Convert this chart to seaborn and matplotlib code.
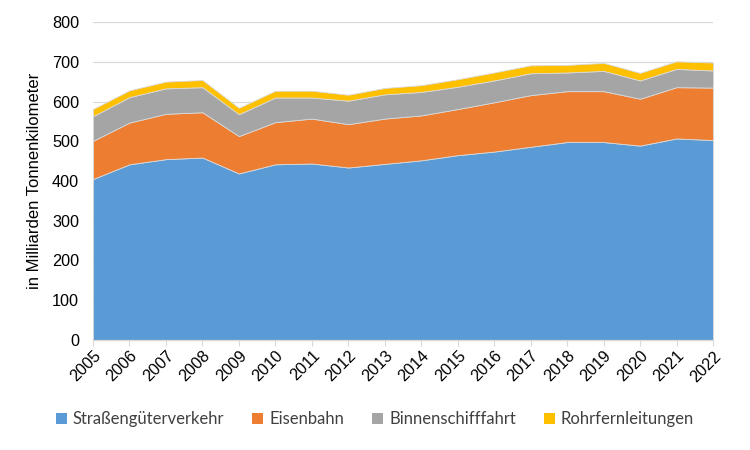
import matplotlib
matplotlib.use("Agg")
import matplotlib.pyplot as plt
from matplotlib.patches import Patch
import seaborn as sns
import numpy as np

years = list(range(2005, 2023))
strasse = [405, 442, 455, 459, 419, 442, 444, 434, 443, 452, 465, 474, 486, 498, 498, 489, 507, 503]
bahn_top = [501, 547, 569, 573, 513, 548, 557, 543, 557, 565, 581, 598, 616, 626, 626, 607, 636, 635]
binnen_top = [563, 611, 633, 636, 568, 610, 610, 602, 618, 624, 637, 653, 671, 673, 677, 653, 682, 678]
total = [581, 628, 650, 654, 584, 627, 627, 617, 634, 641, 656, 673, 691, 692, 697, 672, 701, 698]

eisenbahn = [b - s for b, s in zip(bahn_top, strasse)]
binnen = [g - b for g, b in zip(binnen_top, bahn_top)]
rohr = [t - g for t, g in zip(total, binnen_top)]

series_names = ["Straßengüterverkehr", "Eisenbahn", "Binnenschifffahrt", "Rohrfernleitungen"]
colors = ["#5B9BD5", "#ED7D31", "#A5A5A5", "#FFC000"]
y_ticks = [0, 100, 200, 300, 400, 500, 600, 700, 800]
y_label = "in Milliarden Tonnenkilometer"

sns.set_style("white")
plt.rcParams["font.family"] = ["Liberation Sans", "DejaVu Sans"]

fig = plt.figure(figsize=(7.5, 4.5), dpi=100)
ax = fig.add_axes([93 / 750, 1 - 340 / 450, (713 - 93) / 750, (340 - 22) / 450])

data = np.vstack([strasse, eisenbahn, binnen, rohr])
ax.stackplot(years, data, colors=colors, edgecolor="#D9D9D9", linewidth=0.6, zorder=2)

ax.set_xlim(years[0], years[-1])
ax.set_ylim(0, 800)
ax.set_yticks(y_ticks)
ax.set_xticks(years)
ax.set_xticklabels([str(y) for y in years], rotation=45, ha="right", va="top",
                   rotation_mode="anchor", fontsize=11.7, color="#000000")
ax.tick_params(axis="y", labelsize=11.7, colors="#000000", length=0, pad=10)
ax.tick_params(axis="x", length=4, width=0.8, color="#D9D9D9", direction="out", pad=2, bottom=True)
ax.yaxis.grid(True, color="#D9D9D9", linewidth=0.9, zorder=0)
ax.xaxis.grid(False)
for s in ["left", "right", "top"]:
    ax.spines[s].set_visible(False)
ax.spines["bottom"].set_color("#D9D9D9")
ax.spines["bottom"].set_linewidth(0.9)
ax.set_ylabel(y_label, fontsize=12, labelpad=7, color="#000000")
ax.set_axisbelow(True)

handles = [Patch(facecolor=c, edgecolor="none") for c in colors]
fig.legend(handles, series_names, loc="center", bbox_to_anchor=(0.5, 1 - 419 / 450), ncol=4,
           frameon=False, handlelength=0.65, handleheight=0.65, handletextpad=0.35,
           columnspacing=1.7, labelcolor="#404040", prop={"family": "Lato", "size": 12})

fig.savefig("out.png", dpi=100)
